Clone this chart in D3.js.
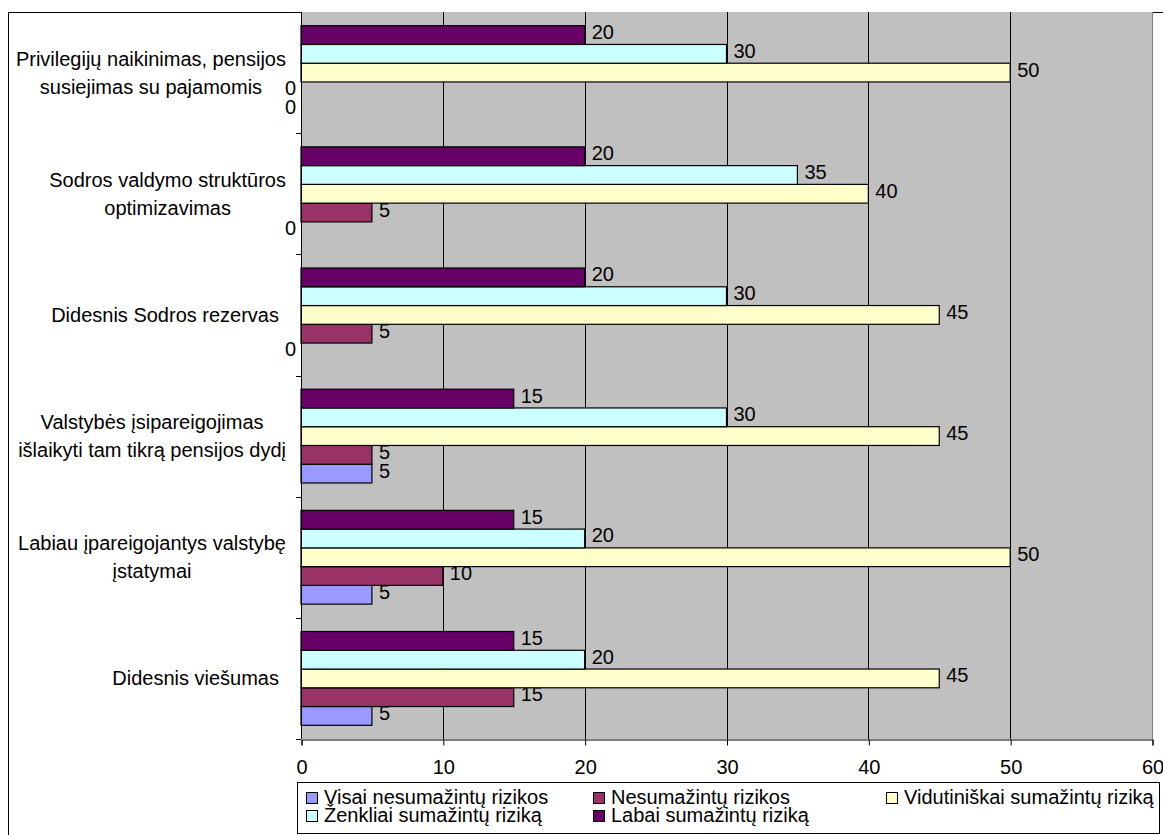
<!DOCTYPE html>
<html>
<head>
<meta charset="utf-8">
<script src="https://cdn.jsdelivr.net/npm/d3@7"></script>
<style>
  html, body { margin: 0; padding: 0; background: #fff; }
  svg { display: block; }
  text { font-family: "Liberation Sans", Arial, sans-serif; fill: #000; }
</style>
</head>
<body>
<svg id="chart" width="1163" height="835"></svg>
<script>
// Categories, top to bottom; each entry lists the wrapped lines of the label
const categories = [
  ["Privilegijų naikinimas, pensijos", "susiejimas su pajamomis"],
  ["Sodros valdymo struktūros", "optimizavimas"],
  ["Didesnis Sodros rezervas"],
  ["Valstybės įsipareigojimas", "išlaikyti tam tikrą pensijos dydį"],
  ["Labiau įpareigojantys valstybę", "įstatymai"],
  ["Didesnis viešumas"]
];

// Series in legend order
const seriesNames = [
  "Visai nesumažintų rizikos",
  "Nesumažintų rizikos",
  "Vidutiniškai sumažintų riziką",
  "Ženkliai sumažintų riziką",
  "Labai sumažintų riziką"
];
const seriesColors = ["#9999FF", "#993366", "#FFFFCC", "#CCFFFF", "#660066"];

// Values per series, in category order (top to bottom)
const visai        = [0, 0, 0, 5, 5, 5];
const nesumazintu  = [0, 5, 5, 5, 10, 15];
const vidutiniskai = [50, 40, 45, 45, 50, 45];
const zenkliai     = [30, 35, 30, 30, 20, 20];
const labai        = [20, 20, 20, 15, 15, 15];
const seriesValues = [visai, nesumazintu, vidutiniskai, zenkliai, labai];

const xTicks = [0, 10, 20, 30, 40, 50, 60];

const svg = d3.select("#chart");
const plot = { left: 301, right: 1152, top: 12, bottom: 739 };

// Chart frame (runs past the right and bottom edges)
svg.append("rect")
  .attr("x", 8.5).attr("y", 12.5)
  .attr("width", 1200).attr("height", 900)
  .attr("fill", "#fff").attr("stroke", "#000").attr("stroke-width", 1);

const x = d3.scaleLinear().domain([0, 60]).range([plot.left, plot.right]);
const catKeys = categories.map((c, i) => i);
const y0 = d3.scaleBand().domain(catKeys).range([plot.top, plot.bottom]);
// bars inside a category: Labai on top, Visai at the bottom
const y1 = d3.scaleBand()
  .domain(d3.range(seriesNames.length).reverse())
  .range([0, y0.bandwidth()])
  .paddingInner(0).paddingOuter(0.73);

// Plot background
svg.append("rect")
  .attr("x", plot.left).attr("y", plot.top)
  .attr("width", plot.right - plot.left).attr("height", plot.bottom - plot.top)
  .attr("fill", "#C0C0C0");
svg.append("line")
  .attr("x1", plot.right + 0.5).attr("x2", plot.right + 0.5)
  .attr("y1", plot.top).attr("y2", plot.bottom)
  .attr("stroke", "#808080");

// Vertical gridlines
svg.append("g").selectAll("line")
  .data(xTicks.filter(t => t > 0 && t < 60))
  .join("line")
  .attr("x1", d => Math.round(x(d)) + 0.5).attr("x2", d => Math.round(x(d)) + 0.5)
  .attr("y1", plot.top).attr("y2", plot.bottom)
  .attr("stroke", "#000").attr("stroke-width", 1);

// Bars and value labels, series by series
seriesNames.forEach((name, s) => {
  const g = svg.append("g");
  const vals = seriesValues[s];
  g.selectAll("rect")
    .data(vals.map((v, c) => ({ v, c })).filter(d => d.v > 0))
    .join("rect")
    .attr("x", x(0))
    .attr("y", d => y0(d.c) + y1(s))
    .attr("width", d => x(d.v) - x(0))
    .attr("height", y1.bandwidth())
    .attr("fill", seriesColors[s])
    .attr("stroke", "#000").attr("stroke-width", 1.2);
  g.selectAll("text")
    .data(vals.map((v, c) => ({ v, c })))
    .join("text")
    .attr("x", d => d.v > 0 ? x(d.v) + 7 : x(0) - 5)
    .attr("y", d => y0(d.c) + y1(s) + y1.bandwidth() / 2 + 4)
    .attr("text-anchor", d => d.v > 0 ? "start" : "end")
    .attr("font-size", 20)
    .text(d => d.v);
});

// Y axis line and category ticks
svg.append("line")
  .attr("x1", plot.left + 0.5).attr("x2", plot.left + 0.5)
  .attr("y1", plot.top).attr("y2", plot.bottom)
  .attr("stroke", "#000");
svg.append("g").selectAll("line")
  .data(catKeys.slice(1).concat([categories.length]))
  .join("line")
  .attr("x1", plot.left - 5).attr("x2", plot.left)
  .attr("y1", d => Math.round(d < categories.length ? y0(d) : plot.bottom) + 0.5)
  .attr("y2", d => Math.round(d < categories.length ? y0(d) : plot.bottom) + 0.5)
  .attr("stroke", "#000");

// X axis
const xAxis = d3.axisBottom(x).tickValues(xTicks).tickSize(6).tickPadding(14).tickFormat(d3.format("d"));
const gx = svg.append("g")
  .attr("transform", `translate(0.5,${plot.bottom + 0.5})`)
  .call(xAxis);
gx.select(".domain").attr("stroke", "#000");
gx.selectAll(".tick line").attr("stroke", "#000");
gx.selectAll(".tick text")
  .attr("font-size", 20)
  .attr("font-family", "Liberation Sans, Arial, sans-serif")
  .attr("fill", "#000");

// Category labels
const lineGap = 28;
categories.forEach((lines, i) => {
  const cy = y0(i) + y0.bandwidth() / 2;
  const g = svg.append("g");
  const texts = g.selectAll("text")
    .data(lines)
    .join("text")
    .attr("font-size", 20)
    .attr("y", (d, k) => cy + 7 + (k - (lines.length - 1) / 2) * lineGap)
    .text(d => d);
  if (lines.length === 1) {
    texts.attr("x", plot.left - 22).attr("text-anchor", "end");
  } else {
    let maxW = 0;
    texts.each(function () { maxW = Math.max(maxW, this.getComputedTextLength()); });
    texts.attr("x", plot.left - 15 - maxW / 2).attr("text-anchor", "middle");
  }
});

// Legend
const legend = svg.append("g");
legend.append("rect")
  .attr("x", 297.5).attr("y", 782.5)
  .attr("width", 862).attr("height", 51)
  .attr("fill", "#fff").attr("stroke", "#000");
const legendCols = [306, 593, 886];
const legendRows = [804, 822];
const legendPos = [[0, 0], [1, 0], [2, 0], [0, 1], [1, 1]];
seriesNames.forEach((name, s) => {
  const [c, r] = legendPos[s];
  legend.append("rect")
    .attr("x", legendCols[c] + 0.5).attr("y", legendRows[r] - 11.5)
    .attr("width", 11).attr("height", 11)
    .attr("fill", seriesColors[s]).attr("stroke", "#000");
  legend.append("text")
    .attr("x", legendCols[c] + 18).attr("y", legendRows[r])
    .attr("font-size", 20)
    .text(name);
});
</script>
</body>
</html>
